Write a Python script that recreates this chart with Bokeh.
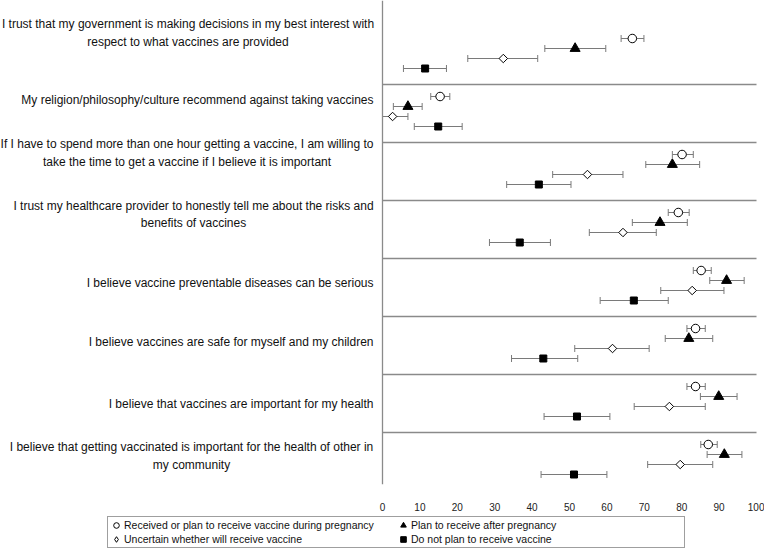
from bokeh.plotting import figure
from bokeh.layouts import column
from bokeh.models import (Range1d, FixedTicker, Whisker, TeeHead, ColumnDataSource,
                          Span, Legend, LegendItem)
from bokeh.core.properties import value
from bokeh.embed import file_html
from bokeh.resources import INLINE
import math

# ---------------- data ----------------
statements = [
    ["I trust that my government is making decisions in my best interest with",
     "respect to what vaccines are provided"],
    ["My religion/philosophy/culture recommend against taking vaccines"],
    ["If I have to spend more than one hour getting a vaccine, I am willing to",
     "take the time to get a vaccine if I believe it is important"],
    ["I trust my healthcare provider to honestly tell me about the risks and",
     "benefits of vaccines"],
    ["I believe vaccine preventable diseases can be serious"],
    ["I believe vaccines are safe for myself and my children"],
    ["I believe that vaccines are important for my health"],
    ["I believe that getting vaccinated is important for the health of other in",
     "my community"],
]

series_names = [
    "Received or plan to receive vaccine during pregnancy",
    "Plan to receive after pregnancy",
    "Uncertain whether will receive vaccine",
    "Do not plan to receive vaccine",
]

received = [66.8, 15.4, 80.1, 79.1, 85.2, 83.7, 83.7, 87.1]
received_lo = [63.8, 12.9, 77.5, 76.4, 83.1, 81.4, 81.4, 85.1]
received_hi = [69.9, 18.0, 83.1, 82.0, 87.9, 86.3, 86.3, 89.5]

after = [51.5, 6.8, 77.5, 74.2, 92.0, 81.9, 89.9, 91.4]
after_lo = [43.4, 2.9, 70.4, 66.8, 87.5, 75.6, 85.0, 86.8]
after_hi = [59.7, 10.6, 84.8, 81.5, 96.7, 88.3, 94.8, 96.1]

uncertain = [32.3, 2.7, 54.8, 64.3, 82.8, 61.5, 76.7, 79.6]
uncertain_lo = [22.8, 0.0, 45.5, 55.3, 74.4, 51.4, 67.3, 70.9]
uncertain_hi = [41.5, 6.8, 64.3, 73.2, 91.3, 71.3, 86.3, 88.3]

noplan = [11.4, 14.9, 41.8, 36.7, 67.2, 43.0, 52.0, 51.2]
noplan_lo = [5.6, 8.5, 33.2, 28.6, 58.2, 34.5, 43.2, 42.4]
noplan_hi = [17.1, 21.3, 50.4, 44.9, 76.4, 52.2, 60.8, 60.0]

x_ticks = [0, 10, 20, 30, 40, 50, 60, 70, 80, 90, 100]

# ---------------- layout (pixels) ----------------
PAGE_W = 764
CHART_H = 516
LEG_H = 33
ROW_PX = 58.0            # distance between statement groups
ZERO_PX = 382.0          # page x of value 0
PX_PER_UNIT = 3.74       # px per value unit
FIRST_CENTER_PX = 53.0
FRAME_BOTTOM_PX = 484.0
series_offsets_px = [-15, -5, 5, 15]
label_offsets_px = [-20.5, -12, -16.5, -13, -3, -2, 2, -3.5]
label_right_px = 373.0
label_center_px = [187.5, None, 186.5, 193.0, None, None, None, 191.0]
sep_offset_px = 2.0
LEGEND_POS = (107, 1)    # legend box: left edge, gap above page bottom

FONT = "Liberation Sans"
GRAY_LINE = "#8a8a8a"
GRAY_ERR = "#7a7a7a"


def px_to_x(px):
    return (px - ZERO_PX) / PX_PER_UNIT


p = figure(width=PAGE_W, height=CHART_H, output_backend="svg", toolbar_location=None,
           x_range=Range1d(px_to_x(0), px_to_x(PAGE_W)),
           y_range=Range1d((FRAME_BOTTOM_PX - FIRST_CENTER_PX) / ROW_PX,
                           (0 - FIRST_CENTER_PX) / ROW_PX),
           y_axis_location=None,
           min_border_left=0, min_border_right=0, min_border_top=0,
           min_border_bottom=int(CHART_H - FRAME_BOTTOM_PX))
p.outline_line_color = None
p.xgrid.visible = False
p.ygrid.visible = False
p.background_fill_color = "white"
p.border_fill_color = "white"

# x axis: tick labels only
p.xaxis.ticker = FixedTicker(ticks=x_ticks)
p.xaxis.axis_line_color = None
p.xaxis.major_tick_line_color = None
p.xaxis.minor_tick_line_color = None
p.xaxis.major_tick_out = 0
p.xaxis.major_tick_in = 0
p.xaxis.major_label_standoff = 18
p.xaxis.major_label_text_font = FONT
p.xaxis.major_label_text_font_size = "10px"
p.xaxis.major_label_text_color = "#222222"

# vertical value-axis line at 0
p.add_layout(Span(location=x_ticks[0], dimension="height",
                  line_color=GRAY_LINE, line_width=1.3))

n = len(statements)
idx = list(range(n))

# separators between statements
sep_y = [i + 0.5 + sep_offset_px / ROW_PX for i in range(n - 1)]
p.segment(x0=[x_ticks[0]] * len(sep_y), x1=[x_ticks[-1]] * len(sep_y),
          y0=sep_y, y1=sep_y, line_color=GRAY_LINE, line_width=1.3)

series = [
    (received, received_lo, received_hi),
    (after, after_lo, after_hi),
    (uncertain, uncertain_lo, uncertain_hi),
    (noplan, noplan_lo, noplan_hi),
]
sources = []
for j, (vals, lo, hi) in enumerate(series):
    ys = [i + series_offsets_px[j] / ROW_PX for i in idx]
    src = ColumnDataSource(dict(x=vals, y=ys, lo=lo, hi=hi))
    sources.append(src)
    p.add_layout(Whisker(base="y", lower="lo", upper="hi", dimension="width", source=src,
                         line_color=GRAY_ERR, line_width=1, level="underlay",
                         upper_head=TeeHead(size=7, line_color=GRAY_ERR, line_width=1),
                         lower_head=TeeHead(size=7, line_color=GRAY_ERR, line_width=1)))

marker_styles = [
    dict(marker="circle", size=8.5, fill_color="white"),
    dict(marker="triangle", size=10, fill_color="black"),
    dict(marker="square", size=6, angle=math.pi / 4, fill_color="white"),
    dict(marker="square", size=7, fill_color="black"),
]
for j in range(4):
    p.scatter("x", "y", source=sources[j], line_color="black", line_width=1,
              **marker_styles[j])

# statement labels
single = dict(x=[], y=[], text=[])
double = dict(x=[], y=[], text=[])
for i, lines in enumerate(statements):
    y = i + label_offsets_px[i] / ROW_PX
    if len(lines) == 1:
        single["x"].append(px_to_x(label_right_px))
        single["y"].append(y)
        single["text"].append(lines[0])
    else:
        double["x"].append(px_to_x(label_center_px[i]))
        double["y"].append(y)
        double["text"].append("\n".join(lines))

text_style = dict(text_font=value(FONT), text_font_size=value("12px"),
                  text_color="#111111", text_baseline="middle", text_line_height=1.25)
p.text(x="x", y="y", text="text", source=ColumnDataSource(single),
       text_align="right", **text_style)
p.text(x="x", y="y", text="text", source=ColumnDataSource(double),
       text_align="center", **text_style)

# ---------------- legend strip ----------------
lf = figure(width=PAGE_W, height=LEG_H, output_backend="svg", toolbar_location=None,
            x_range=Range1d(0, 1), y_range=Range1d(0, 1),
            x_axis_location=None, y_axis_location=None,
            min_border_left=0, min_border_right=0,
            min_border_top=0, min_border_bottom=0)
lf.outline_line_color = None
lf.xgrid.visible = False
lf.ygrid.visible = False

leg_styles = [
    dict(marker="circle", fill_color="white"),
    dict(marker="triangle", fill_color="black"),
    dict(marker="diamond", fill_color="white"),
    dict(marker="square", fill_color="black"),
]
# legend-key renderers: one point each, placed outside the visible range
leg_r = [lf.scatter(x=[-1000], y=[-1000], line_color="black", line_width=1, size=7, **s)
         for s in leg_styles]

order = [0, 2, 1, 3]  # legend fills columns first
legend = Legend(items=[LegendItem(label=series_names[k], renderers=[leg_r[k]]) for k in order],
                ncols=2, location=LEGEND_POS, padding=1, spacing=0, margin=0,
                glyph_width=14, glyph_height=14, label_height=14, label_standoff=1,
                label_width=272,
                label_text_font=FONT, label_text_font_size="10.5px",
                label_text_color="#111111",
                border_line_color="#404040", border_line_width=1,
                background_fill_color="white", background_fill_alpha=1.0)
lf.add_layout(legend)

layout = column(p, lf, spacing=0)
open("out.html", "w").write(file_html(layout, INLINE))
